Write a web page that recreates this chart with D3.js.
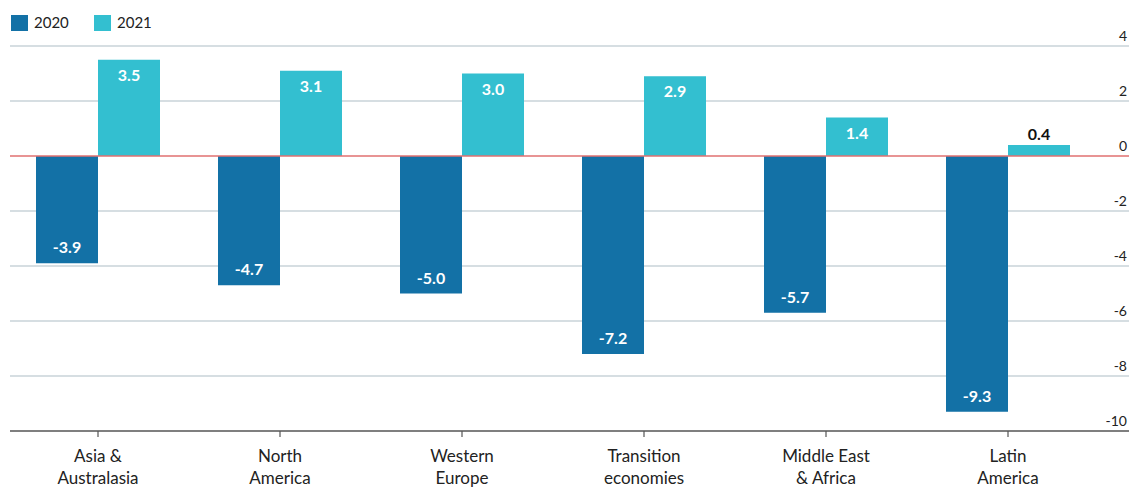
<!DOCTYPE html>
<html>
<head>
<meta charset="utf-8">
<script src="https://cdn.jsdelivr.net/npm/d3@7"></script>
<style>
  body { margin: 0; background: #fff; }
  text { font-family: Lato, "Open Sans", sans-serif; }
</style>
</head>
<body>
<div id="chart"></div>
<script>
var regions = [["Asia &", "Australasia"], ["North", "America"], ["Western", "Europe"],
               ["Transition", "economies"], ["Middle East", "& Africa"], ["Latin", "America"]];
var years = ["2020", "2021"];
var values2020 = [-3.9, -4.7, -5.0, -7.2, -5.7, -9.3];
var values2021 = [3.5, 3.1, 3.0, 2.9, 1.4, 0.4];
var yTicks = [4, 2, 0, -2, -4, -6, -8, -10];

var colors = {"2020": "#1371a6", "2021": "#33bfd0"};

var width = 1129, height = 488;

var svg = d3.select("#chart").append("svg")
    .attr("width", width)
    .attr("height", height);

var names = regions.map(function (d) { return d.join(" "); });

var x = d3.scaleBand()
    .domain(names)
    .range([7, 1099]);

var barW = 62;

var y = d3.scaleLinear()
    .domain([-10, 4])
    .range([431, 46]);

// grid lines + right labels
var grid = svg.append("g");
grid.selectAll("line")
    .data(yTicks.filter(function (d) { return d !== -10 && d !== 0; }))
    .enter().append("line")
    .attr("x1", 10).attr("x2", width)
    .attr("y1", function (d) { return y(d); })
    .attr("y2", function (d) { return y(d); })
    .attr("stroke", "#c8d3d9")
    .attr("stroke-width", 1.5);

grid.selectAll("text")
    .data(yTicks)
    .enter().append("text")
    .attr("x", 1127)
    .attr("y", function (d) { return y(d) - 5; })
    .attr("text-anchor", "end")
    .attr("font-size", 14)
    .attr("fill", "#222")
    .text(function (d) { return d; });

// bars
var data = names.map(function (n, i) {
    return {name: n, v2020: values2020[i], v2021: values2021[i]};
});

var groups = svg.append("g").selectAll("g")
    .data(data)
    .enter().append("g");

groups.append("rect")
    .attr("x", function (d) { return x(d.name) + x.bandwidth() / 2 - barW; })
    .attr("width", barW)
    .attr("y", function (d) { return y(Math.max(0, d.v2020)); })
    .attr("height", function (d) { return Math.abs(y(d.v2020) - y(0)); })
    .attr("fill", colors["2020"]);

groups.append("rect")
    .attr("x", function (d) { return x(d.name) + x.bandwidth() / 2; })
    .attr("width", barW)
    .attr("y", function (d) { return y(Math.max(0, d.v2021)); })
    .attr("height", function (d) { return Math.abs(y(d.v2021) - y(0)); })
    .attr("fill", colors["2021"]);

// value labels
groups.append("text")
    .attr("x", function (d) { return x(d.name) + x.bandwidth() / 2 - barW / 2; })
    .attr("y", function (d) { return y(d.v2020) - 10; })
    .attr("text-anchor", "middle")
    .attr("font-size", 16)
    .attr("font-weight", "bold")
    .attr("fill", "#fff")
    .text(function (d) { return d.v2020.toFixed(1); });

groups.append("text")
    .attr("x", function (d) { return x(d.name) + x.bandwidth() / 2 + barW / 2; })
    .attr("y", function (d) {
        var h = y(0) - y(d.v2021);
        return h > 25 ? y(d.v2021) + 21 : y(d.v2021) - 5;
    })
    .attr("text-anchor", "middle")
    .attr("font-size", 16)
    .attr("font-weight", "bold")
    .attr("fill", function (d) { return (y(0) - y(d.v2021)) > 25 ? "#fff" : "#111"; })
    .text(function (d) { return d.v2021.toFixed(1); });

// zero line
svg.append("line")
    .attr("x1", 10).attr("x2", width)
    .attr("y1", y(0)).attr("y2", y(0))
    .attr("stroke", "#e07070")
    .attr("stroke-width", 1.5);

// bottom axis
svg.append("line")
    .attr("x1", 10).attr("x2", width)
    .attr("y1", y(-10)).attr("y2", y(-10))
    .attr("stroke", "#555")
    .attr("stroke-width", 1.5);

var cats = svg.append("g").selectAll("g")
    .data(regions)
    .enter().append("g")
    .attr("transform", function (d, i) {
        return "translate(" + (x(names[i]) + x.bandwidth() / 2) + "," + y(-10) + ")";
    });

cats.append("line")
    .attr("y1", 0).attr("y2", 6)
    .attr("stroke", "#555")
    .attr("stroke-width", 1.2);

cats.selectAll("text")
    .data(function (d) { return d; })
    .enter().append("text")
    .attr("y", function (d, i) { return 31 + i * 22; })
    .attr("text-anchor", "middle")
    .attr("font-size", 17)
    .attr("fill", "#222")
    .text(function (d) { return d; });

// legend
var legend = svg.append("g").selectAll("g")
    .data(years)
    .enter().append("g")
    .attr("transform", function (d, i) { return "translate(" + (11 + i * 83) + ",15)"; });

legend.append("rect")
    .attr("width", 17).attr("height", 16)
    .attr("fill", function (d) { return colors[d]; });

legend.append("text")
    .attr("x", 23).attr("y", 13)
    .attr("font-size", 15)
    .attr("fill", "#222")
    .text(function (d) { return d; });
</script>
</body>
</html>
